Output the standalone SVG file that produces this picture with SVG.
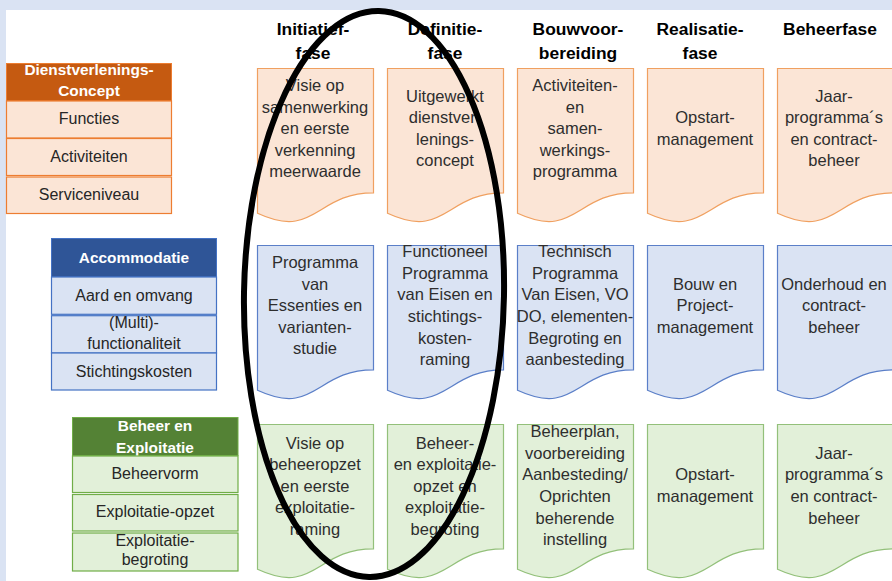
<svg xmlns="http://www.w3.org/2000/svg" width="892" height="581" viewBox="0 0 892 581">
<style>
text{font-family:"Liberation Sans",Arial,sans-serif;}
.ph{font-size:17.4px;font-weight:bold;fill:#000;text-anchor:middle;}
.hd{font-size:15.4px;font-weight:bold;fill:#fff;text-anchor:middle;}
.rt{font-size:16px;fill:#262626;text-anchor:middle;}
.dt{font-size:16.5px;fill:#2e2e2e;text-anchor:middle;}
.oH{fill:#C55A11;stroke:#ED7D31;stroke-width:1;}
.oR{fill:#FBE5D6;stroke:#ED7D31;stroke-width:1.2;}
.oD{fill:#FBE5D6;stroke:#F0A060;stroke-width:1.2;}
.bH{fill:#2F5597;stroke:#4472C4;stroke-width:1;}
.bR{fill:#DAE3F3;stroke:#4472C4;stroke-width:1.2;}
.bD{fill:#DAE3F3;stroke:#5B7FC8;stroke-width:1.2;}
.gH{fill:#548235;stroke:#70AD47;stroke-width:1;}
.gR{fill:#E2F0D9;stroke:#70AD47;stroke-width:1.2;}
.gD{fill:#E2F0D9;stroke:#93C07A;stroke-width:1.2;}
</style>
<defs>
<path id="doc" d="M0,0 h116 v124.3 c-58,0 -58,47.4 -116,20.5 z"/>
</defs>
<rect x="0" y="0" width="892" height="581" fill="#DAE3F3"/>
<rect x="6" y="10" width="886" height="571" fill="#FFFFFF"/>

<g id="phase-headers">
<text class="ph" x="313" y="35">Initiatief-</text><text class="ph" x="313" y="59">fase</text>
<text class="ph" x="445" y="35">Definitie-</text><text class="ph" x="445" y="59">fase</text>
<text class="ph" x="578" y="35">Bouwvoor-</text><text class="ph" x="578" y="59">bereiding</text>
<text class="ph" x="700" y="35">Realisatie-</text><text class="ph" x="700" y="59">fase</text>
<text class="ph" x="830" y="35">Beheerfase</text>
</g>

<g id="panel-dienstverlening">
<rect class="oH" x="6.5" y="63.5" width="165" height="37.5"/>
<text class="hd" x="89" y="75">Dienstverlenings-</text>
<text class="hd" x="89" y="96">Concept</text>
<rect class="oR" x="6.5" y="101" width="165" height="37"/>
<text class="rt" x="89" y="124">Functies</text>
<rect class="oR" x="6.5" y="138.5" width="165" height="37"/>
<text class="rt" x="89" y="161.5">Activiteiten</text>
<rect class="oR" x="6.5" y="177" width="165" height="36.5"/>
<text class="rt" x="89" y="199.5">Serviceniveau</text>
</g>

<g id="panel-accommodatie">
<rect class="bH" x="51.5" y="238.5" width="165" height="38.5"/>
<text class="hd" x="134" y="263">Accommodatie</text>
<rect class="bR" x="51.5" y="277" width="165" height="37.3"/>
<text class="rt" x="134" y="301">Aard en omvang</text>
<rect class="bR" x="51.5" y="315.7" width="165" height="37.3"/>
<text class="rt" x="134" y="328">(Multi)-</text>
<text class="rt" x="134" y="349">functionaliteit</text>
<rect class="bR" x="51.5" y="353" width="165" height="37"/>
<text class="rt" x="134" y="377">Stichtingskosten</text>
</g>

<g id="panel-beheer">
<rect class="gH" x="72.5" y="417.5" width="165.5" height="38"/>
<text class="hd" x="155" y="431">Beheer en</text>
<text class="hd" x="155" y="453">Exploitatie</text>
<rect class="gR" x="72.5" y="456" width="165.5" height="36.5"/>
<text class="rt" x="155" y="479">Beheervorm</text>
<rect class="gR" x="72.5" y="494.5" width="165.5" height="36.5"/>
<text class="rt" x="155" y="517">Exploitatie-opzet</text>
<rect class="gR" x="72.5" y="533" width="165.5" height="38"/>
<text class="rt" x="155" y="546">Exploitatie-</text>
<text class="rt" x="155" y="565">begroting</text>
</g>

<g id="doc-r1c1"><use href="#doc" class="oD" x="257.5" y="68.5"/>
<text class="dt" x="315"><tspan x="315" y="91">Visie op</tspan><tspan x="315" y="112.6">samenwerking</tspan><tspan x="315" y="134.2">en eerste</tspan><tspan x="315" y="155.8">verkenning</tspan><tspan x="315" y="177.4">meerwaarde</tspan></text></g>
<g id="doc-r1c2"><use href="#doc" class="oD" x="387.5" y="68.5"/>
<text class="dt" x="445"><tspan x="445" y="101.6">Uitgewerkt</tspan><tspan x="445" y="123.2">dienstver-</tspan><tspan x="445" y="144.8">lenings-</tspan><tspan x="445" y="166.4">concept</tspan></text></g>
<g id="doc-r1c3"><use href="#doc" class="oD" x="517.5" y="68.5"/>
<text class="dt" x="575"><tspan x="575" y="91">Activiteiten-</tspan><tspan x="575" y="112.6">en</tspan><tspan x="575" y="134.2">samen-</tspan><tspan x="575" y="155.8">werkings-</tspan><tspan x="575" y="177.4">programma</tspan></text></g>
<g id="doc-r1c4"><use href="#doc" class="oD" x="647.5" y="68.5"/>
<text class="dt" x="705"><tspan x="705" y="123.2">Opstart-</tspan><tspan x="705" y="144.8">management</tspan></text></g>
<g id="doc-r1c5"><use href="#doc" class="oD" x="777.5" y="68.5"/>
<text class="dt" x="834"><tspan x="834" y="101.6">Jaar-</tspan><tspan x="834" y="123.2">programma´s</tspan><tspan x="834" y="144.8">en contract-</tspan><tspan x="834" y="166.4">beheer</tspan></text></g>

<g id="doc-r2c1"><use href="#doc" class="bD" x="257.5" y="245.5"/>
<text class="dt" x="315"><tspan x="315" y="268">Programma</tspan><tspan x="315" y="289.6">van</tspan><tspan x="315" y="311.2">Essenties en</tspan><tspan x="315" y="332.8">varianten-</tspan><tspan x="315" y="354.4">studie</tspan></text></g>
<g id="doc-r2c2"><use href="#doc" class="bD" x="387.5" y="245.5"/>
<text class="dt" x="445"><tspan x="445" y="257.2">Functioneel</tspan><tspan x="445" y="278.8">Programma</tspan><tspan x="445" y="300.4">van Eisen en</tspan><tspan x="445" y="322">stichtings-</tspan><tspan x="445" y="343.6">kosten-</tspan><tspan x="445" y="365.2">raming</tspan></text></g>
<g id="doc-r2c3"><use href="#doc" class="bD" x="517.5" y="245.5"/>
<text class="dt" x="575"><tspan x="575" y="257.2">Technisch</tspan><tspan x="575" y="278.8">Programma</tspan><tspan x="575" y="300.4">Van Eisen, VO</tspan><tspan x="575" y="322">DO, elementen-</tspan><tspan x="575" y="343.6">Begroting en</tspan><tspan x="575" y="365.2">aanbesteding</tspan></text></g>
<g id="doc-r2c4"><use href="#doc" class="bD" x="647.5" y="245.5"/>
<text class="dt" x="705"><tspan x="705" y="289.6">Bouw en</tspan><tspan x="705" y="311.2">Project-</tspan><tspan x="705" y="332.8">management</tspan></text></g>
<g id="doc-r2c5"><use href="#doc" class="bD" x="777.5" y="245.5"/>
<text class="dt" x="834"><tspan x="834" y="289.6">Onderhoud en</tspan><tspan x="834" y="311.2">contract-</tspan><tspan x="834" y="332.8">beheer</tspan></text></g>

<g id="doc-r3c1"><use href="#doc" class="gD" x="257.5" y="424.5"/>
<text class="dt" x="315"><tspan x="315" y="448.5">Visie op</tspan><tspan x="315" y="470">beheeropzet</tspan><tspan x="315" y="491.6">en eerste</tspan><tspan x="315" y="513.2">exploitatie-</tspan><tspan x="315" y="534.8">raming</tspan></text></g>
<g id="doc-r3c2"><use href="#doc" class="gD" x="387.5" y="424.5"/>
<text class="dt" x="445"><tspan x="445" y="448.5">Beheer-</tspan><tspan x="445" y="470">en exploitatie-</tspan><tspan x="445" y="491.6">opzet en</tspan><tspan x="445" y="513.2">exploitatie-</tspan><tspan x="445" y="534.8">begroting</tspan></text></g>
<g id="doc-r3c3"><use href="#doc" class="gD" x="517.5" y="424.5"/>
<text class="dt" x="575"><tspan x="575" y="437.2">Beheerplan,</tspan><tspan x="575" y="458.8">voorbereiding</tspan><tspan x="575" y="480.4">Aanbesteding/</tspan><tspan x="575" y="502">Oprichten</tspan><tspan x="575" y="523.6">beherende</tspan><tspan x="575" y="545.2">instelling</tspan></text></g>
<g id="doc-r3c4"><use href="#doc" class="gD" x="647.5" y="424.5"/>
<text class="dt" x="705"><tspan x="705" y="480.4">Opstart-</tspan><tspan x="705" y="502">management</tspan></text></g>
<g id="doc-r3c5"><use href="#doc" class="gD" x="777.5" y="424.5"/>
<text class="dt" x="834"><tspan x="834" y="458.8">Jaar-</tspan><tspan x="834" y="480.4">programma´s</tspan><tspan x="834" y="502">en contract-</tspan><tspan x="834" y="523.6">beheer</tspan></text></g>

<g id="connectors"></g>

<g id="highlight-ellipse">
<ellipse cx="374" cy="294" rx="130" ry="283" fill="none" stroke="#000" stroke-width="6" transform="rotate(1 374 294)"/>
</g>
</svg>
